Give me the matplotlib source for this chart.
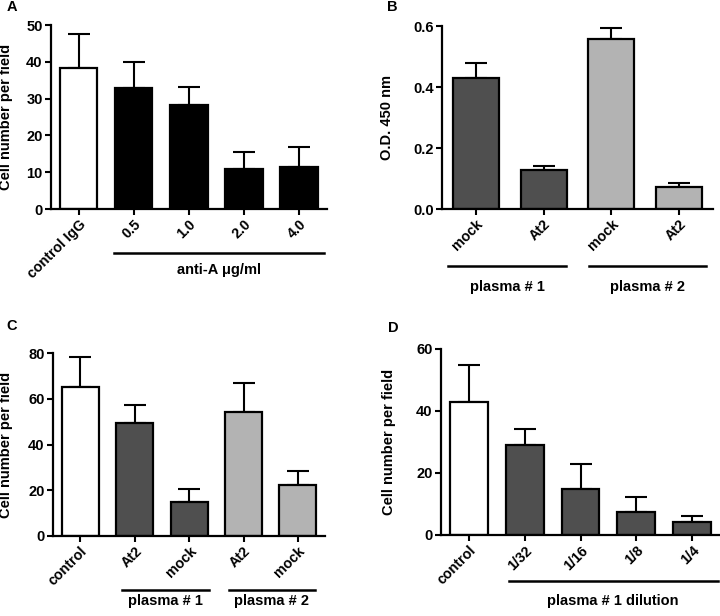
import numpy as np
import matplotlib
matplotlib.use('Agg')
import matplotlib.pyplot as plt
import matplotlib.transforms as mtransforms

plt.rcParams['font.family'] = ['Liberation Sans', 'DejaVu Sans']
plt.rcParams['font.weight'] = 'bold'
plt.rcParams['font.size'] = 10

DARK = '#4f4f4f'
LIGHT = '#b3b3b3'

# --- Panel A data ---
a_labels = ['control IgG', '0.5', '1.0', '2.0', '4.0']
a_values = [38.2, 32.8, 28.3, 10.9, 11.3]
a_err    = [9.4, 7.2, 4.8, 4.6, 5.6]
a_colors = ['white', 'black', 'black', 'black', 'black']

# --- Panel B data ---
b_labels = ['mock', 'At2', 'mock', 'At2']
b_values = [0.431, 0.128, 0.556, 0.073]
b_err    = [0.049, 0.012, 0.037, 0.012]
b_colors = [DARK, DARK, LIGHT, LIGHT]

# --- Panel C data ---
c_labels = ['control', 'At2', 'mock', 'At2', 'mock']
c_values = [65.0, 49.6, 15.0, 54.3, 22.3]
c_err    = [13.1, 7.6, 5.6, 12.6, 5.9]
c_colors = ['white', DARK, DARK, LIGHT, LIGHT]

# --- Panel D data ---
d_labels = ['control', '1/32', '1/16', '1/8', '1/4']
d_values = [43.0, 28.9, 14.9, 7.3, 4.1]
d_err    = [11.8, 5.3, 7.9, 4.9, 1.9]
d_colors = ['white', DARK, DARK, DARK, DARK]


def bar_panel(ax, labels, values, err, colors, ylim, yticks, ylabel, fmt):
    x = np.arange(len(values))
    ax.errorbar(x, values, yerr=[np.zeros(len(err)), err], fmt='none',
                ecolor='black', elinewidth=1.5, capsize=8, capthick=1.5, zorder=1)
    ax.bar(x, values, width=0.68, color=colors, edgecolor='black',
           linewidth=1.6, zorder=2)
    ax.set_xlim(-0.5, len(values) - 0.5)
    ax.set_ylim(*ylim)
    ax.set_yticks(yticks)
    ax.set_yticklabels([fmt.format(t) for t in yticks], fontsize=10.5)
    ax.set_xticks(x)
    ax.set_xticklabels(labels, rotation=45, ha='right', va='top',
                       rotation_mode='anchor', fontsize=10.3)
    ax.set_ylabel(ylabel, fontsize=10.5, fontweight='bold')
    for s in ['top', 'right']:
        ax.spines[s].set_visible(False)
    for s in ['left', 'bottom']:
        ax.spines[s].set_linewidth(1.6)
    ax.tick_params(direction='out', length=4, width=1.5, pad=2)
    ax.patch.set_visible(False)


def group_line(ax, x0, x1, y_line, y_text, text):
    trans = mtransforms.blended_transform_factory(ax.transData, ax.transAxes)
    ax.plot([x0, x1], [y_line, y_line], color='black', linewidth=1.8,
            transform=trans, clip_on=False)
    ax.text((x0 + x1) / 2, y_text, text, transform=trans, ha='center',
            va='center', fontsize=10.5, fontweight='bold')


fig = plt.figure(figsize=(7.2, 6.16), dpi=100)

axA = fig.add_axes([0.0708, 0.6607, 0.383, 0.2987])
bar_panel(axA, a_labels, a_values, a_err, a_colors, (0, 50),
          [0, 10, 20, 30, 40, 50], 'Cell number per field', '{:g}')
group_line(axA, 0.65, 4.45, -0.239, -0.33, 'anti-A \u03bcg/ml')
axA.yaxis.set_label_coords(-0.138, 0.5)

axB = fig.add_axes([0.614, 0.6607, 0.376, 0.297])
bar_panel(axB, b_labels, b_values, b_err, b_colors, (0, 0.6),
          [0, 0.2, 0.4, 0.6], 'O.D. 450 nm', '{:.1f}')
group_line(axB, -0.41, 1.33, -0.311, -0.426, 'plasma # 1')
group_line(axB, 1.67, 3.40, -0.311, -0.426, 'plasma # 2')
axB.yaxis.set_label_coords(-0.179, 0.5)

axC = fig.add_axes([0.0736, 0.1299, 0.378, 0.297])
bar_panel(axC, c_labels, c_values, c_err, c_colors, (0, 80),
          [0, 20, 40, 60, 80], 'Cell number per field', '{:g}')
group_line(axC, 0.77, 2.37, -0.295, -0.355, 'plasma # 1')
group_line(axC, 2.73, 4.31, -0.295, -0.355, 'plasma # 2')
axC.yaxis.set_label_coords(-0.146, 0.5)

axD = fig.add_axes([0.6125, 0.1315, 0.3875, 0.302])
bar_panel(axD, d_labels, d_values, d_err, d_colors, (0, 60),
          [0, 20, 40, 60], 'Cell number per field', '{:g}')
group_line(axD, 0.71, 4.46, -0.247, -0.355, 'plasma # 1 dilution')
axD.yaxis.set_label_coords(-0.16, 0.5)

for letter, px, py in [('A', 12, 7), ('B', 392, 7), ('C', 12, 326), ('D', 393, 328)]:
    fig.text(px / 720, 1 - py / 616, letter, ha='center', va='center',
             fontsize=10.5, fontweight='bold')

fig.savefig('out.png', dpi=100)
